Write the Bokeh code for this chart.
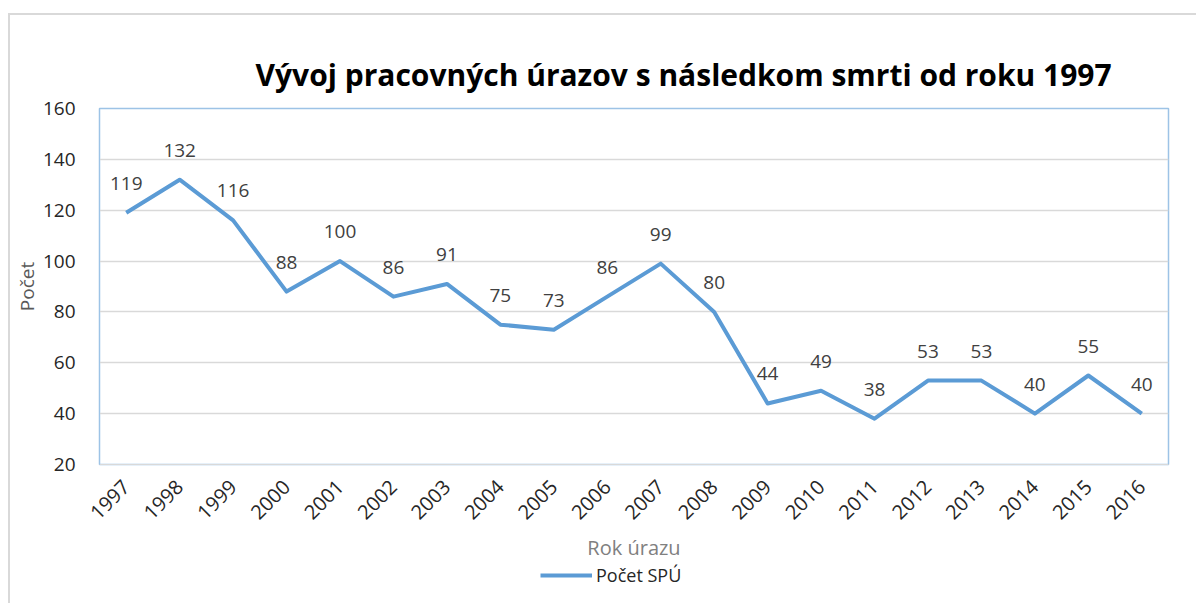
import math
from bokeh.plotting import figure
from bokeh.layouts import column
from bokeh.models import ColumnDataSource, Legend, LegendItem, LabelSet, Range1d, FixedTicker
from bokeh.core.properties import value
from bokeh.embed import file_html
from bokeh.resources import INLINE

years = ["1997", "1998", "1999", "2000", "2001", "2002", "2003", "2004", "2005", "2006",
         "2007", "2008", "2009", "2010", "2011", "2012", "2013", "2014", "2015", "2016"]
counts = [119, 132, 116, 88, 100, 86, 91, 75, 73, 86, 99, 80, 44, 49, 38, 53, 53, 40, 55, 40]
y_ticks = [20, 40, 60, 80, 100, 120, 140, 160]
series_name = "Počet SPÚ"

FONT = "Open Sans"
LINE_COLOR = "#5B9BD5"

src = ColumnDataSource(dict(x=years, y=counts, lbl=[str(c) for c in counts]))

p = figure(x_range=years, width=1186, height=548, output_backend="svg", toolbar_location=None,
           min_border_left=87, min_border_right=28, min_border_top=93, min_border_bottom=98)
p.y_range = Range1d(20, 160)

p.title.text = "Vývoj pracovných úrazov s následkom smrti  od roku 1997"
p.title.text_font = FONT
p.title.text_font_size = "30px"
p.title.text_font_style = "bold"
p.title.text_color = "#000000"
p.title.align = "left"
p.title.offset = 156
p.title.standoff = 28

r = p.line("x", "y", source=src, line_color=LINE_COLOR, line_width=4, line_join="round")

labels = LabelSet(x="x", y="y", text="lbl", source=src, text_align="center", text_baseline="bottom",
                  y_offset=23, text_font=value(FONT), text_font_size="19px", text_color="#404040")
p.add_layout(labels)

p.outline_line_color = "#9DC3E6"
p.outline_line_width = 1.5
p.xgrid.grid_line_color = None
p.ygrid.grid_line_color = "#d9d9d9"
p.ygrid.grid_line_width = 1.5

p.yaxis.ticker = FixedTicker(ticks=y_ticks)
p.yaxis.axis_line_color = "#9DC3E6"
p.yaxis.major_tick_line_color = None
p.yaxis.minor_tick_line_color = None
p.yaxis.major_label_standoff = 18
p.yaxis.major_label_text_font = FONT
p.yaxis.major_label_text_font_size = "19px"
p.yaxis.major_label_text_color = "#262626"
p.yaxis.axis_label = "Počet"
p.yaxis.axis_label_text_font = FONT
p.yaxis.axis_label_text_font_size = "19px"
p.yaxis.axis_label_text_font_style = "normal"
p.yaxis.axis_label_text_color = "#595959"
p.yaxis.axis_label_standoff = 0

p.xaxis.axis_line_color = "#d9d9d9"
p.xaxis.major_tick_line_color = None
p.xaxis.minor_tick_line_color = None
p.xaxis.major_label_orientation = math.pi / 4
p.xaxis.major_label_standoff = 13
p.xaxis.major_label_text_font = FONT
p.xaxis.major_label_text_font_size = "20px"
p.xaxis.major_label_text_color = "#262626"
p.xaxis.axis_label = "Rok úrazu"
p.xaxis.axis_label_text_font = FONT
p.xaxis.axis_label_text_font_size = "20px"
p.xaxis.axis_label_text_font_style = "normal"
p.xaxis.axis_label_text_color = "#808080"
p.xaxis.axis_label_standoff = 5

# legend strip below the chart (shares the x scale; its y range keeps the line out of view)
lg = figure(width=1186, height=40, output_backend="svg", toolbar_location=None,
            min_border=0, x_range=p.x_range, y_range=Range1d(1000, 1001))
lg.axis.visible = False
lg.grid.grid_line_color = None
lg.outline_line_color = None
lr = lg.line("x", "y", source=src, line_color=LINE_COLOR, line_width=4)
legend = Legend(items=[LegendItem(label=series_name, renderers=[lr])], location=(441, 16),
                orientation="horizontal", border_line_color=None, background_fill_alpha=0,
                label_text_font=FONT, label_text_font_size="18px", label_text_color="#262626",
                glyph_width=52, glyph_height=18, label_height=18, padding=0, margin=0, label_standoff=4)
lg.add_layout(legend, "center")

layout = column(p, lg, spacing=0,
                styles={"margin-left": "8px", "margin-top": "13px",
                        "border-left": "2px solid #d9d9d9", "border-top": "2px solid #d9d9d9"})
open("out.html", "w").write(file_html(layout, INLINE))
